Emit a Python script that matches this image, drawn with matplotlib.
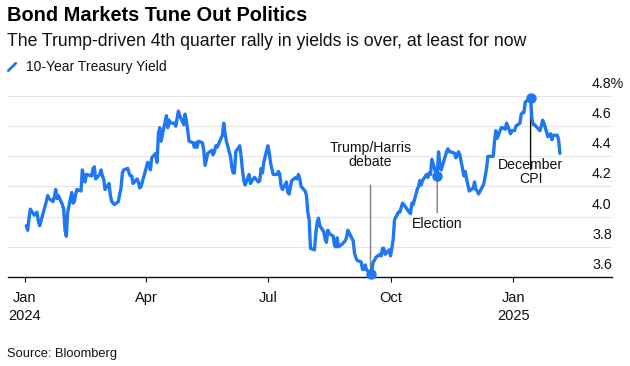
import matplotlib
matplotlib.use("Agg")
import matplotlib.pyplot as plt
import matplotlib.dates as mdates
from matplotlib.lines import Line2D
import pandas as pd
import numpy as np

plt.rcParams['font.family'] = ['Liberation Sans', 'DejaVu Sans']

# ---------------- data ----------------
title = "Bond Markets Tune Out Politics"
subtitle = "The Trump-driven 4th quarter rally in yields is over, at least for now"
series_name = "10-Year Treasury Yield"
source = "Source: Bloomberg"

start_date = "2024-01-02"
end_date = "2025-02-05"
market_holidays = ["2024-01-15", "2024-02-19", "2024-03-29", "2024-05-27",
                   "2024-06-19", "2024-07-04", "2024-09-02", "2024-10-14",
                   "2024-11-11", "2024-11-28", "2024-12-25", "2025-01-01",
                   "2025-01-20"]

yields = [
    # Jan 2024
    3.94, 3.91, 3.99, 4.05, 4.01, 4.02, 4.03, 3.97, 3.94, 4.07, 4.10, 4.14,
    4.12, 4.10, 4.13, 4.18, 4.12, 4.14, 4.08, 4.05, 3.91,
    # Feb
    3.87, 4.03, 4.16, 4.09, 4.10, 4.15, 4.18, 4.17, 4.31, 4.26, 4.23, 4.28,
    4.27, 4.32, 4.33, 4.25, 4.28, 4.31, 4.27, 4.25,
    # Mar
    4.18, 4.22, 4.14, 4.10, 4.09, 4.08, 4.10, 4.15, 4.19, 4.29, 4.31, 4.32,
    4.29, 4.27, 4.27, 4.22, 4.25, 4.23, 4.19, 4.20,
    # Apr
    4.33, 4.36, 4.35, 4.31, 4.39, 4.42, 4.36, 4.55, 4.59, 4.50, 4.63, 4.67,
    4.59, 4.64, 4.62, 4.62, 4.60, 4.65, 4.70, 4.67, 4.61, 4.68,
    # May
    4.63, 4.57, 4.50, 4.49, 4.46, 4.49, 4.46, 4.50, 4.49, 4.44, 4.34, 4.38,
    4.42, 4.44, 4.41, 4.43, 4.47, 4.46, 4.54, 4.62, 4.55, 4.50,
    # Jun
    4.40, 4.33, 4.29, 4.29, 4.43, 4.47, 4.40, 4.31, 4.24, 4.21, 4.28, 4.22,
    4.25, 4.26, 4.23, 4.24, 4.32, 4.29, 4.36,
    # Jul
    4.47, 4.43, 4.36, 4.28, 4.28, 4.30, 4.28, 4.20, 4.18, 4.23, 4.16, 4.15,
    4.20, 4.24, 4.26, 4.25, 4.28, 4.25, 4.20, 4.17, 4.14, 4.03,
    # Aug
    3.98, 3.79, 3.78, 3.89, 3.96, 3.99, 3.94, 3.90, 3.85, 3.83, 3.91, 3.89,
    3.87, 3.81, 3.80, 3.86, 3.80, 3.82, 3.83, 3.84, 3.86, 3.91,
    # Sep
    3.84, 3.76, 3.73, 3.71, 3.70, 3.65, 3.65, 3.68, 3.65, 3.62, 3.64, 3.70,
    3.71, 3.73, 3.75, 3.74, 3.79, 3.79, 3.75, 3.78,
    # Oct
    3.74, 3.79, 3.85, 3.98, 4.03, 4.03, 4.06, 4.09, 4.08, 4.03, 4.02, 4.09,
    4.08, 4.18, 4.20, 4.24, 4.21, 4.24, 4.28, 4.26, 4.29, 4.28,
    # Nov
    4.38, 4.29, 4.27, 4.43, 4.34, 4.31, 4.43, 4.45, 4.43, 4.43, 4.42, 4.39,
    4.41, 4.43, 4.41, 4.27, 4.30, 4.25, 4.17,
    # Dec
    4.19, 4.23, 4.18, 4.17, 4.15, 4.20, 4.22, 4.27, 4.32, 4.40, 4.40, 4.40,
    4.50, 4.57, 4.52, 4.59, 4.59, 4.58, 4.62, 4.55, 4.57,
    # Jan 2025
    4.57, 4.60, 4.62, 4.68, 4.69, 4.69, 4.76, 4.78, 4.79, 4.65, 4.61, 4.61,
    4.57, 4.60, 4.64, 4.62, 4.53, 4.54, 4.55, 4.51, 4.54,
    # Feb 2025
    4.54, 4.51, 4.42,
]

event_labels = ["Trump/Harris\ndebate", "Election", "December\nCPI"]
event_dates = ["2024-09-16", "2024-11-05", "2025-01-14"]

y_ticks = [3.6, 3.8, 4.0, 4.2, 4.4, 4.6, 4.8]
y_tick_labels = ["3.6", "3.8", "4.0", "4.2", "4.4", "4.6", "4.8%"]
x_tick_dates = ["2024-01-01", "2024-04-01", "2024-07-01", "2024-10-01", "2025-01-01"]
x_tick_labels = ["Jan\n2024", "Apr", "Jul", "Oct", "Jan\n2025"]

# ---------------- build series ----------------
bdays = pd.bdate_range(start_date, end_date)
bdays = bdays[~bdays.isin(pd.to_datetime(market_holidays))]
n = min(len(bdays), len(yields))
s = pd.Series(yields[:n], index=bdays[:n])

BLUE = "#1f78f2"
W, H = 630, 366

fig = plt.figure(figsize=(W / 100, H / 100), dpi=100)
ax_left, ax_right, ax_top, ax_bottom = 8, 612, 96, 277
ax = fig.add_axes([ax_left / W, 1 - ax_bottom / H, (ax_right - ax_left) / W,
                   (ax_bottom - ax_top) / H])

px_per_day = 1.334
jan1 = mdates.date2num(pd.Timestamp("2024-01-01"))
x0 = jan1 - (25 - ax_left) / px_per_day
x1 = jan1 + (ax_right - 25) / px_per_day
ax.set_xlim(x0, x1)
ax.set_ylim(3.6, 4.8)

ax.plot(mdates.date2num(s.index), s.values, color=BLUE, lw=2.4,
        solid_joinstyle='round', solid_capstyle='round', zorder=3, clip_on=False)

# grid / spines
ax.set_yticks(y_ticks)
ax.grid(axis='y', color='#e6e6e6', lw=0.8, zorder=0)
ax.tick_params(axis='y', length=0, labelleft=False)
for sp in ['top', 'right', 'left']:
    ax.spines[sp].set_visible(False)
ax.spines['bottom'].set_color('#111111')
ax.spines['bottom'].set_linewidth(1.0)
ax.spines['bottom'].set_zorder(2)

ax.set_xticks(mdates.date2num(pd.to_datetime(x_tick_dates)))
ax.set_xticklabels(x_tick_labels, fontsize=10.5, color='#111111', linespacing=1.4)
ax.tick_params(axis='x', direction='out', length=3.6, width=0.8, color='#111111', pad=6.2)

# y labels above grid lines
for v, lab in zip(y_ticks, y_tick_labels):
    ax.annotate(lab, xy=((592 - ax_left) / (ax_right - ax_left), v),
                xycoords=('axes fraction', 'data'), xytext=(0, 5.8),
                textcoords='offset points', ha='left', va='baseline',
                fontsize=10.3, color='#111111', annotation_clip=False)

# annotations
ann_cfg = [
    # (line end offset pt, text offset pt, va, line color)
    (64.0, 77.8, 'baseline', '#808080'),
    (-26.6, -37.2, 'baseline', '#808080'),
    (-52.0, -61.7, 'baseline', '#111111'),
]
for lab, d, (loff, toff, va, lc) in zip(event_labels, event_dates, ann_cfg):
    ts = pd.Timestamp(d)
    xv = mdates.date2num(ts)
    yv = s.loc[ts]
    ax.annotate('', xy=(xv, yv), xytext=(0, loff), textcoords='offset points',
                arrowprops=dict(arrowstyle='-', color=lc, lw=1.0, shrinkA=0, shrinkB=0),
                zorder=2, annotation_clip=False)
    ax.annotate(lab, xy=(xv, yv), xytext=(0, toff), textcoords='offset points',
                ha='center', va=va, fontsize=10.2, color='#111111',
                linespacing=1.0, annotation_clip=False)
    ax.plot([xv], [yv], 'o', color=BLUE, ms=6.5, zorder=4, clip_on=False)

# titles
fig.text(7 / W, 1 - 21.3 / H, title, fontsize=14.4, fontweight='bold',
         va='baseline', ha='left', color='black')
fig.text(7 / W, 1 - 45.6 / H, subtitle, fontsize=12.7, va='baseline',
         ha='left', color='#111111')
fig.add_artist(Line2D([8.3 / W, 15.7 / W], [1 - 70.7 / H, 1 - 63.3 / H],
                      color=BLUE, lw=2.0, solid_capstyle='round'))
fig.text(26 / W, 1 - 70.5 / H, series_name, fontsize=10, va='baseline',
         ha='left', color='#111111')
fig.text(7 / W, 1 - 357 / H, source, fontsize=9.25, va='baseline',
         ha='left', color='#111111')

fig.savefig("out.png", dpi=100)
